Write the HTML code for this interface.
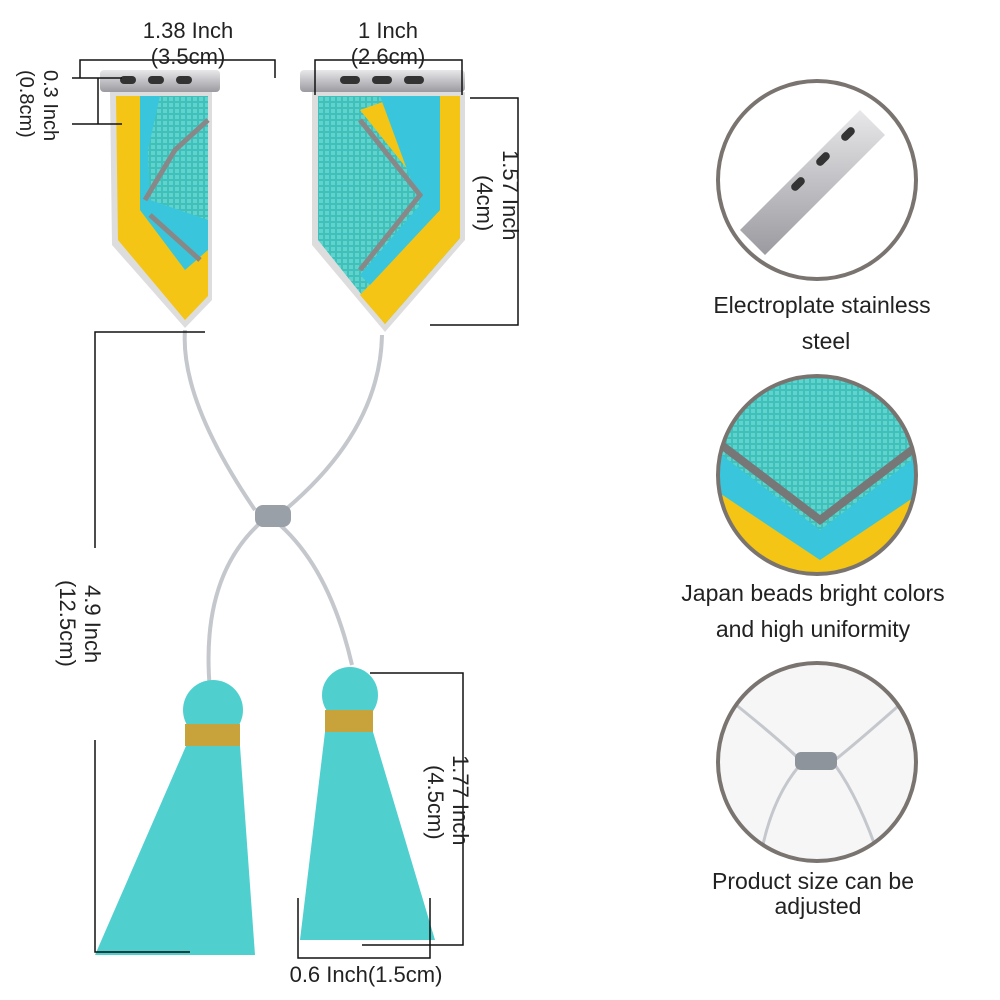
<!DOCTYPE html>
<html><head><meta charset="utf-8"><style>
html,body{margin:0;padding:0;background:#fff;}
svg{display:block;}
text{font-family:"Liberation Sans",sans-serif;fill:#222;}
</style></head><body>
<svg width="1000" height="1000" viewBox="0 0 1000 1000" xmlns="http://www.w3.org/2000/svg">
<defs>
<pattern id="beads" width="6" height="6" patternUnits="userSpaceOnUse">
<rect width="6" height="6" fill="#3fc0bb"/><rect x="1" y="1" width="4" height="4" fill="#5fd3cc"/>
</pattern>
<linearGradient id="steel" x1="0" x2="0" y1="0" y2="1"><stop offset="0" stop-color="#e8e8ea"/><stop offset="1" stop-color="#9a9aa0"/></linearGradient>
<clipPath id="c1"><circle cx="817" cy="180" r="98"/></clipPath>
<clipPath id="c2"><circle cx="817" cy="475" r="98"/></clipPath>
<clipPath id="c3"><circle cx="817" cy="762" r="98"/></clipPath>
</defs>

<!-- left pennant -->
<rect x="100" y="70" width="120" height="22" rx="4" fill="url(#steel)"/>
<rect x="120" y="76" width="16" height="8" rx="4" fill="#333"/><rect x="148" y="76" width="16" height="8" rx="4" fill="#333"/><rect x="176" y="76" width="16" height="8" rx="4" fill="#333"/>
<path d="M110 92 L212 92 L212 300 L185 328 L112 245 Z" fill="#ddd"/>
<path d="M116 96 L208 96 L208 296 L185 320 L118 240 Z" fill="#f4c514"/>
<path d="M140 96 L208 96 L208 250 L185 270 L140 210 Z" fill="#39c6dc"/>
<path d="M160 96 L208 96 L208 220 L150 200 L148 150 Z" fill="url(#beads)"/>
<path d="M145 200 L175 150 L208 120" stroke="#888" stroke-width="5" fill="none"/>
<path d="M150 215 L200 260" stroke="#888" stroke-width="5" fill="none"/>

<!-- right pennant -->
<rect x="300" y="70" width="165" height="22" rx="4" fill="url(#steel)"/>
<rect x="340" y="76" width="20" height="8" rx="4" fill="#333"/><rect x="372" y="76" width="20" height="8" rx="4" fill="#333"/><rect x="404" y="76" width="20" height="8" rx="4" fill="#333"/>
<path d="M312 92 L465 92 L465 240 L385 332 L312 245 Z" fill="#ddd"/>
<path d="M318 96 L460 96 L460 238 L385 324 L318 240 Z" fill="url(#beads)"/>
<path d="M400 96 L460 96 L460 238 L385 324 L360 295 L440 210 L360 110 Z" fill="#f4c514"/>
<path d="M380 96 L440 96 L440 210 L370 285 L360 275 L420 205 Z" fill="#39c6dc"/>
<path d="M360 120 L420 195 L360 270" stroke="#888" stroke-width="5" fill="none"/>

<!-- strings -->
<g stroke="#c4c7cc" stroke-width="4" fill="none">
<path d="M185 330 Q180 400 255 510"/>
<path d="M382 335 Q380 430 285 510"/>
<path d="M258 525 Q200 580 210 690"/>
<path d="M280 525 Q330 570 352 665"/>
</g>
<rect x="255" y="505" width="36" height="22" rx="8" fill="#9aa0a8"/>

<!-- tassels -->
<circle cx="213" cy="710" r="30" fill="#4fd0cf"/>
<rect x="185" y="724" width="55" height="22" fill="#c8a23a"/>
<path d="M186 746 L240 746 L255 955 L95 955 Z" fill="#4fd0cf"/>
<circle cx="350" cy="695" r="28" fill="#4fd0cf"/>
<rect x="325" y="710" width="48" height="22" fill="#c8a23a"/>
<path d="M325 732 L373 732 L435 940 L300 940 Z" fill="#4fd0cf"/>

<!-- dimension lines -->
<g stroke="#111" stroke-width="1.5" fill="none">
<path d="M80 78 L80 60 L275 60 L275 78"/>
<path d="M315 95 L315 60 L462 60 L462 95"/>
<path d="M72 78 L122 78 M72 124 L122 124 M98 78 L98 124"/>
<path d="M470 98 L518 98 L518 325 L430 325"/>
<path d="M205 332 L95 332 L95 548 M95 740 L95 952 L190 952"/>
<path d="M370 673 L463 673 L463 945 L362 945"/>
<path d="M298 898 L298 958 L430 958 L430 898"/>
</g>
<text x="188" y="38" font-size="22" text-anchor="middle">1.38 Inch</text>
<text x="188" y="64" font-size="22" text-anchor="middle">(3.5cm)</text>
<text x="388" y="38" font-size="22" text-anchor="middle">1 Inch</text>
<text x="388" y="64" font-size="22" text-anchor="middle">(2.6cm)</text>
<text transform="translate(44,70) rotate(90)" font-size="20">0.3 Inch</text>
<text transform="translate(20,70) rotate(90)" font-size="20">(0.8cm)</text>
<text transform="translate(503,150) rotate(90)" font-size="22">1.57 Inch</text>
<text transform="translate(477,175) rotate(90)" font-size="22">(4cm)</text>
<text transform="translate(85,585) rotate(90)" font-size="22">4.9 Inch</text>
<text transform="translate(60,580) rotate(90)" font-size="22">(12.5cm)</text>
<text transform="translate(453,755) rotate(90)" font-size="22">1.77 Inch</text>
<text transform="translate(428,765) rotate(90)" font-size="22">(4.5cm)</text>
<text x="366" y="982" font-size="22" text-anchor="middle">0.6 Inch(1.5cm)</text>

<!-- circles -->
<g clip-path="url(#c1)">
<rect x="715" y="78" width="210" height="210" fill="#fff"/>
<path d="M740 230 L860 110 L885 135 L765 255 Z" fill="url(#steel)"/>
<rect x="790" y="180" width="16" height="8" rx="4" fill="#333" transform="rotate(-45 798 184)"/>
<rect x="815" y="155" width="16" height="8" rx="4" fill="#333" transform="rotate(-45 823 159)"/>
<rect x="840" y="130" width="16" height="8" rx="4" fill="#333" transform="rotate(-45 848 134)"/>
</g>
<circle cx="817" cy="180" r="99" fill="none" stroke="#7a7470" stroke-width="4"/>
<g clip-path="url(#c2)">
<rect x="715" y="375" width="210" height="210" fill="url(#beads)"/>
<path d="M715 450 L820 530 L925 450 L925 580 L715 580 Z" fill="#39c6dc"/>
<path d="M715 490 L820 560 L925 490 L925 580 L715 580 Z" fill="#f4c514"/>
<path d="M715 440 L820 520 L925 440" stroke="#777" stroke-width="8" fill="none"/>
</g>
<circle cx="817" cy="475" r="99" fill="none" stroke="#7a7470" stroke-width="4"/>
<g clip-path="url(#c3)">
<rect x="715" y="662" width="210" height="210" fill="#f6f6f7"/>
<path d="M730 700 Q780 740 800 760 M835 760 Q860 740 905 700 M800 765 Q770 800 760 860 M835 765 Q860 800 880 860" stroke="#c4c7cc" stroke-width="3" fill="none"/>
<rect x="795" y="752" width="42" height="18" rx="6" fill="#8e949c"/>
</g>
<circle cx="817" cy="762" r="99" fill="none" stroke="#7a7470" stroke-width="4"/>

<text x="822" y="313" font-size="23" text-anchor="middle">Electroplate stainless</text>
<text x="826" y="349" font-size="23" text-anchor="middle">steel</text>
<text x="813" y="601" font-size="23" text-anchor="middle">Japan beads bright colors</text>
<text x="813" y="637" font-size="23" text-anchor="middle">and high uniformity</text>
<text x="813" y="889" font-size="23" text-anchor="middle">Product size can be</text>
<text x="818" y="914" font-size="23" text-anchor="middle">adjusted</text>
</svg>
</body></html>
